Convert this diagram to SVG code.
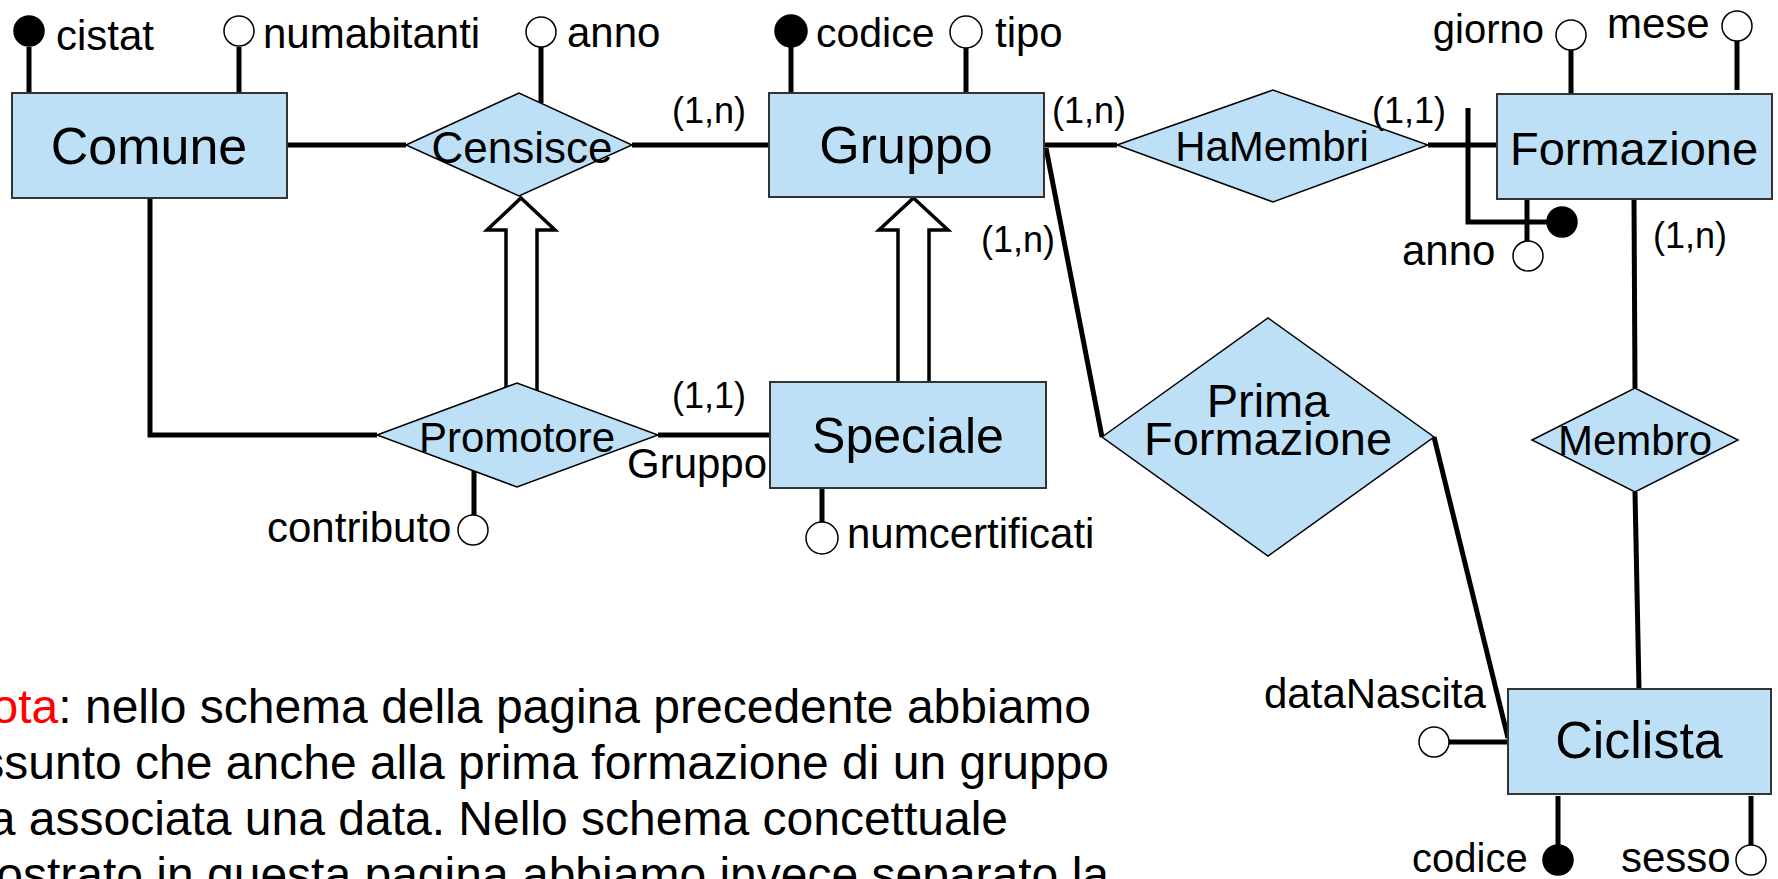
<svg xmlns="http://www.w3.org/2000/svg" width="1778" height="879" viewBox="0 0 1778 879">
<style>
.ent{fill:#bde0f7;stroke:#333;stroke-width:2}
.rel{fill:#bde0f7;stroke:#000;stroke-width:1.5}
text{font-family:"Liberation Sans",Arial,sans-serif;fill:#000}
.c{stroke:#000;stroke-width:5;fill:none}
.open{fill:#fff;stroke:#000;stroke-width:1.5}
.key{fill:#000;stroke:#000;stroke-width:1.5}
.isa{fill:#fff;stroke:#000;stroke-width:3.5;stroke-linejoin:miter}
.en{font-size:52px;text-anchor:middle}
.rn{font-size:42px;text-anchor:middle}
.at{font-size:42px}
.card{font-size:36px}
.note{font-size:48px;text-anchor:end}
</style>
<g id="connectors">
<path class="c" d="M287 145H406"/>
<path class="c" d="M632 145H769"/>
<path class="c" d="M150 198V435H377"/>
<path class="c" d="M658 435H770"/>
<path class="c" d="M1044 145H1117"/>
<path class="c" d="M1428 145H1497"/>
<path class="c" d="M1046 148L1102 437"/>
<path class="c" d="M1434 437L1508 738"/>
<path class="c" d="M1634 199L1635 388"/>
<path class="c" d="M1635 492L1639 689"/>
<path class="c" d="M1468 108V222H1550"/>
<path class="c" d="M29 47V93"/>
<path class="c" d="M239 47V93"/>
<path class="c" d="M541 47V103"/>
<path class="c" d="M791 47V93"/>
<path class="c" d="M966 47V93"/>
<path class="c" d="M1571 50V94"/>
<path class="c" d="M1737 41V90"/>
<path class="c" d="M1527 199V241"/>
<path class="c" d="M474 470V515"/>
<path class="c" d="M822 488V523"/>
<path class="c" d="M1449 742H1508"/>
<path class="c" d="M1558 796V845"/>
<path class="c" d="M1751 796V845"/>
<polygon class="isa" points="521,198 555,230 537,230 537,395 506,395 506,230 487,230"/>
<polygon class="isa" points="913.5,198 948,230 929,230 929,392 898,392 898,230 879,230"/>
</g>
<g id="Comune">
<rect class="ent" x="12" y="93" width="275" height="105"/>
<text class="en" x="149" y="164">Comune</text>
</g>
<g id="Gruppo">
<rect class="ent" x="769" y="93" width="275" height="104"/>
<text class="en" x="906" y="163">Gruppo</text>
</g>
<g id="Formazione">
<rect class="ent" x="1497" y="94" width="275" height="105"/>
<text class="en" x="1634" y="165" style="font-size:47px">Formazione</text>
</g>
<g id="Speciale">
<rect class="ent" x="770" y="382" width="276" height="106"/>
<text class="en" x="908" y="453" style="font-size:50px">Speciale</text>
</g>
<g id="Ciclista">
<rect class="ent" x="1508" y="689" width="263" height="105"/>
<text class="en" x="1639" y="758">Ciclista</text>
</g>
<g id="Censisce">
<polygon class="rel" points="406,145 519,93 632,145 519,196"/>
<text class="rn" x="522" y="163" style="font-size:44px">Censisce</text>
</g>
<g id="HaMembri">
<polygon class="rel" points="1117,145 1273,90 1428,145 1273,202"/>
<text class="rn" x="1272" y="161">HaMembri</text>
</g>
<g id="Promotore">
<polygon class="rel" points="377,435 517,383 658,435 517,487"/>
<text class="rn" x="517" y="452">Promotore</text>
</g>
<g id="PrimaFormazione">
<polygon class="rel" points="1102,437 1268,318 1434,437 1268,556"/>
<text class="rn" x="1268" y="417" style="font-size:47px">Prima</text>
<text class="rn" x="1268" y="455" style="font-size:47px">Formazione</text>
</g>
<g id="Membro">
<polygon class="rel" points="1532,440 1635,388 1738,440 1635,492"/>
<text class="rn" x="1635" y="455">Membro</text>
</g>
<g id="attr-cistat"><circle class="key" cx="29" cy="31" r="15"/><text class="at" x="56" y="50">cistat</text></g>
<g id="attr-numabitanti"><circle class="open" cx="239" cy="31" r="15"/><text class="at" x="263" y="48">numabitanti</text></g>
<g id="attr-anno-censisce"><circle class="open" cx="541" cy="32" r="15"/><text class="at" x="567" y="47">anno</text></g>
<g id="attr-codice-gruppo"><circle class="key" cx="791" cy="31" r="16"/><text class="at" x="816" y="47" style="font-size:41px">codice</text></g>
<g id="attr-tipo"><circle class="open" cx="966" cy="32" r="16"/><text class="at" x="995" y="47">tipo</text></g>
<g id="attr-giorno"><circle class="open" cx="1571" cy="35" r="15"/><text class="at" x="1544" y="43" text-anchor="end" style="font-size:40px">giorno</text></g>
<g id="attr-mese"><circle class="open" cx="1737" cy="26" r="15"/><text class="at" x="1607" y="38">mese</text></g>
<g id="attr-anno-formazione"><circle class="open" cx="1528" cy="256" r="15"/><text class="at" x="1402" y="265">anno</text></g>
<g id="id-formazione"><circle class="key" cx="1562" cy="222" r="15"/></g>
<g id="attr-contributo"><circle class="open" cx="473" cy="530" r="15"/><text class="at" x="267" y="542">contributo</text></g>
<g id="attr-numcertificati"><circle class="open" cx="822" cy="538" r="16"/><text class="at" x="847" y="548">numcertificati</text></g>
<g id="attr-dataNascita"><circle class="open" cx="1434" cy="742" r="15"/><text class="at" x="1264" y="708">dataNascita</text></g>
<g id="attr-codice-ciclista"><circle class="key" cx="1558" cy="860" r="15"/><text class="at" x="1412" y="872" style="font-size:40px">codice</text></g>
<g id="attr-sesso"><circle class="open" cx="1751" cy="860" r="15"/><text class="at" x="1621" y="872">sesso</text></g>
<g id="labels">
<text class="card" x="672" y="123">(1,n)</text>
<text class="card" x="1052" y="123">(1,n)</text>
<text class="card" x="981" y="252">(1,n)</text>
<text class="card" x="1372" y="123">(1,1)</text>
<text class="card" x="1653" y="248">(1,n)</text>
<text class="card" x="672" y="408">(1,1)</text>
<text class="at" x="627" y="478">Gruppo</text>
</g>
<g id="note">
<text class="note" x="1091" y="723"><tspan fill="#ff0000">ota</tspan>: nello schema della pagina precedente abbiamo</text>
<text class="note" x="1109" y="779">ssunto che anche alla prima formazione di un gruppo</text>
<text class="note" x="1008" y="835">a associata una data. Nello schema concettuale</text>
<text class="note" x="1109" y="891">ostrato in questa pagina abbiamo invece separato la</text>
</g>
</svg>
